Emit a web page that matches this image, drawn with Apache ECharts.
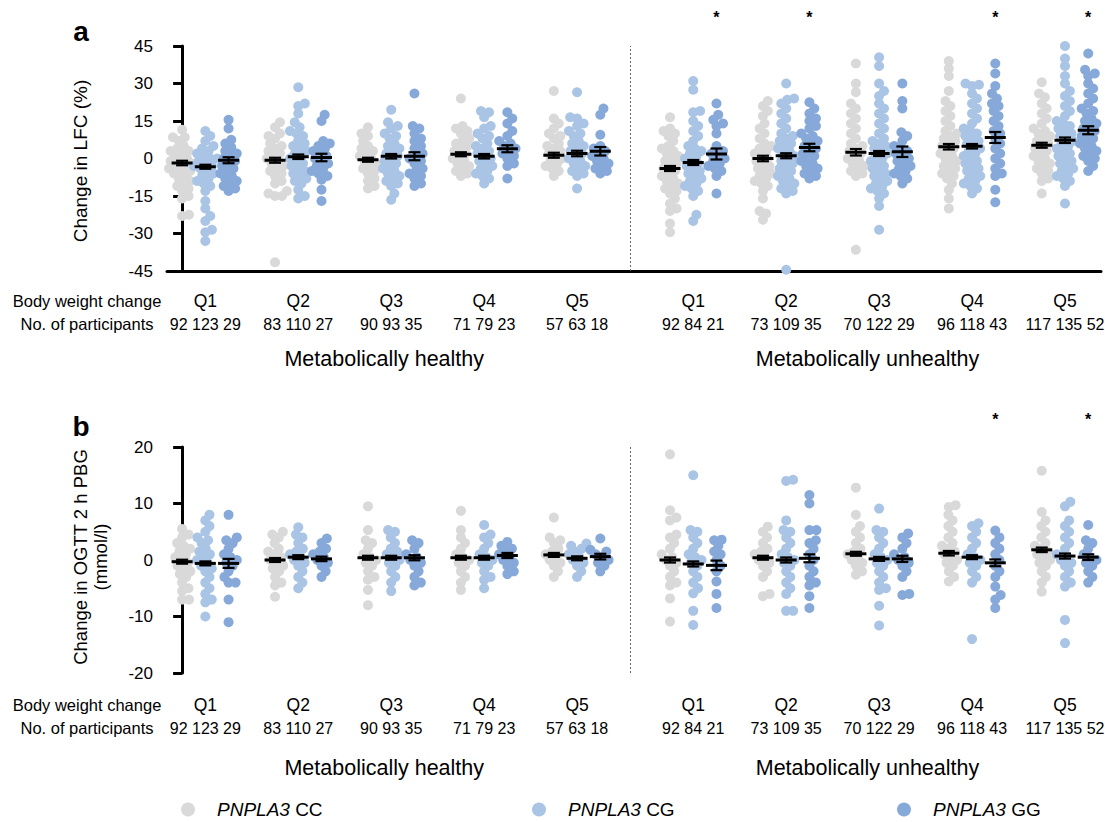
<!DOCTYPE html>
<html><head><meta charset="utf-8">
<script src="https://cdn.jsdelivr.net/npm/echarts@6/dist/echarts.min.js"></script>
<style>html,body{margin:0;padding:0;background:#fff}#c{width:1105px;height:822px}</style>
</head><body><div id="c"></div>
<script>
// ---------------- data ----------------
const quintiles = ['Q1','Q2','Q3','Q4','Q5','Q1','Q2','Q3','Q4','Q5'];
const participantCounts = ['92 123 29','83 110 27','90 93 35','71 79 23','57 63 18','92 84 21','73 109 35','70 122 29','96 118 43','117 135 52'];
const genotypeNames = ['CC','CG','GG'];
const lfcTicks = [-45,-30,-15,0,15,30,45];
const pbgTicks = [-20,-10,0,10,20];
const lfcStarGroups = [5,6,8,9];
const pbgStarGroups = [8,9];

// Panel a: change in LFC (%) ; groups: healthy Q1..Q5, unhealthy Q1..Q5
const lfcCC = [
 [11.5,8.5,8.5,7,5,4,3,3,2,1,0,0,-1,-1,-2,-2,-3,-3,-4,-5,-5,-6,-7,-8,-9,-10,-11,-12,-13,-15,-16,-23,-22.5],
 [14.5,12.5,10,9,8,6,5,4,3,2,1,0,-1,-2,-3,-4,-5,-6,-7,-9,-10,-13,-14,-15,-15,-41.5],
 [12.5,10,9,7,5,4,3,2,1,0,-1,-2,-3,-4,-5,-6,-8,-9,-11,-12],
 [24,13,12,11,10,8,7,6,5,4,3,2,1,0,-1,-2,-3,-4,-5,-6,-7],
 [27,16,14,12,10,9,8,6,5,4,3,2,1,0,-1,-2,-3,-4,-5,-7],
 [16.5,12,11,10,9,7,5,4,3,2,1,0,-1,-2,-3,-4,-5,-6,-7,-8,-9,-10,-11,-12,-13,-14,-16,-18,-20,-21,-26,-29.5],
 [23,21,19,17,14,12,10,8,6,5,4,3,2,1,0,-1,-2,-3,-4,-5,-6,-7,-8,-9,-10,-11,-13,-16,-21,-22,-24.5],
 [38,30,26.5,22,20,18,16,14,12,10,8,6,5,4,3,2,1,0,-1,-2,-3,-4,-5,-6,-7,-36.5],
 [39,36,33,27,23,21,19,17,15,13,11,10,9,8,7,6,5,4,3,2,1,0,-1,-2,-3,-4,-5,-6,-7,-8,-10,-12.5,-16,-20],
 [30.5,26,24.5,22,20,18,16,14,12,11,10,9,8,7,6,5,4,3,2,1,0,-1,-2,-3,-4,-5,-6,-8,-9,-14]
];
const lfcCG = [
 [11,9,7,5,4,3,2,1,0,0,-1,-2,-3,-3,-4,-5,-6,-7,-8,-9,-10,-11,-13,-17,-20,-23,-25,-28.5,-29.5,-33],
 [28.5,22,21,18,14.5,12.5,11,10,9,7,6,5,4,3,2,1,0,-1,-2,-3,-4,-5,-6,-7,-8,-9,-10,-12.5,-15,-16],
 [19.5,14.5,13,12,10,9,8,6,5,4,3,2,1,0,-1,-2,-3,-4,-5,-6,-7,-8,-9,-10,-11,-14,-16.5],
 [19,18.5,16.5,13,12,10,9,8,6,5,4,3,2,1,0,-1,-2,-3,-4,-5,-6,-7,-8,-10],
 [26.5,16.5,16,14,13,11,10,9,7,6,5,4,3,2,1,0,-1,-2,-3,-4,-5,-6,-7,-12],
 [31,27.5,19,18.5,15,13,11,9,7,5,4,3,2,1,0,-1,-2,-3,-4,-5,-6,-7,-8,-9,-10,-11,-12,-13,-15,-22.5,-25],
 [30,24,23.5,22,20,18,16,14,12,10,9,8,7,6,5,4,3,2,1,0,-1,-2,-3,-4,-5,-6,-7,-8,-9,-10,-11,-12,-13,-14,-44.5],
 [40.5,37,30,27,25,22,20,18,16,14,12,10,8,7,6,5,4,3,2,1,0,-1,-2,-3,-4,-5,-6,-7,-8,-9,-10,-11,-12,-13,-14,-16,-19,-28.5],
 [30,29.5,29,26,24,22,20,18,16,14,12,11,10,9,8,7,6,5,4,3,2,1,0,-1,-2,-3,-4,-5,-6,-7,-8,-9,-10,-11,-12,-14],
 [45,40,37,33,30,27,25,23,21,19,17,15,14,13,12,11,10,9,8,7,6,5,4,3,2,1,0,-1,-2,-3,-4,-5,-6,-7,-8,-9,-11,-18]
];
const lfcGG = [
 [15.5,12,7.5,6,4.5,3,2,1,0,-1,-2,-3,-4,-5,-6,-7,-8,-9,-10,-11,-12,-13],
 [17.5,15,7,6,5,4,3,2,1,0,-1,-2,-3,-4,-5,-6,-7,-8.5,-12.5,-17],
 [26,13,12,10,8,7,5,4,2,1,0,-1,-2,-4,-5,-6,-7,-8,-10,-11],
 [18.5,16,14,11,9,7,6,5,4,3,2,1,0,-2,-3,-8],
 [20,17.5,9.5,5,4,3,2,1,0,-1,-2,-3,-4,-5,-6],
 [22,17.5,15.5,14,13,10,5,3,2,1,0,-1,-2,-3,-4,-5,-7,-14],
 [22.5,20,18,16,15,13,12,10,9,8,7,6,5,4,3,2,1,0,-1,-2,-3,-4,-5,-6,-7,-8],
 [30,23,20,10.5,9,7,5,4,3,2,1,0,-1,-2,-3,-4,-5,-6,-7,-8,-10],
 [38,34,29,26,24,22,21,19,17,15,13,11,10,8,6,4,2,0,-2,-4,-6,-7,-12.5,-17.5],
 [42,35.5,34,33,30,28,26,24,22,20,19,18,16,15,14,13,12,11,10,9,8,7,6,5,4,3,2,1,0,-1,-3,-5]
];
const lfcMeanCC = [-1.8,-0.7,-0.5,1.7,1.3,-4.0,0.0,2.5,4.7,5.3];
const lfcMeanCG = [-3.3,0.7,0.9,0.9,2.0,-1.6,1.1,2.0,4.9,7.3];
const lfcMeanGG = [-0.7,0.4,0.9,3.9,2.9,1.8,4.4,2.7,8.4,11.3];
const lfcSemCC = [0.9,1.0,0.8,0.8,1.0,1.0,1.1,1.3,1.1,1.0];
const lfcSemCG = [0.8,0.9,0.9,0.9,1.1,1.0,1.0,1.0,0.9,1.1];
const lfcSemGG = [1.2,1.5,1.6,1.4,1.7,2.2,1.5,2.1,2.2,1.6];

// Panel b: change in OGTT 2 h PBG (mmol/l)
const pbgCC = [
 [5.5,4.5,4,3,2.5,2,1.5,1,0.5,0,-0.5,-1,-1.5,-2,-2.5,-3,-4,-5,-5.5,-7,-7],
 [5,4.5,4,3,2,1.5,1,0.5,0,-0.5,-1,-1.5,-2,-3,-4,-4.5,-6.5],
 [9.5,5.3,3.5,3,2,1,0.5,0,-0.5,-1,-2,-3,-3.5,-5.3,-8],
 [8.7,5.3,4,3,2,1,0.5,0,-0.5,-1,-2,-3,-4,-5.3],
 [7.5,4,3.5,3,2,1.5,1,0.5,0,-0.5,-1,-2,-3],
 [18.7,8.8,7.5,7,4.5,4,3,2,1,0.5,0,-0.5,-1,-2,-3,-4,-4.5,-6.8,-10.9],
 [5.9,5,4,3,2,1.5,1,0.5,0,-0.5,-1,-2,-3,-6,-6.4],
 [12.8,8,6,5,4,3,2,1.5,1,0.5,0,-0.5,-1,-2,-2.6],
 [9.7,9.4,8,7,6,5,4,3,2.5,2,1.5,1,0.5,0,-0.5,-1,-2,-3,-3.8],
 [15.8,8.5,7,6,5,4,3,2.5,2,1.5,1,0.5,0,-0.5,-1,-2,-3,-4,-5.6]
];
const pbgCG = [
 [8,7,6,5,4,3.5,3,2,1.5,1,0.5,0,-0.5,-1,-1.5,-2,-3,-4,-5,-6,-7,-7.5,-10],
 [5.8,4.5,4,3,2,1.5,1,0.5,0,-0.5,-1,-2,-3,-4,-5],
 [5.3,5,4,3,2,1.5,1,0.5,0,-0.5,-1,-2,-3,-4,-5.5],
 [6.2,4.5,4,3,2,1,0.5,0,-0.5,-1,-2,-3,-3.5,-5],
 [2.9,2.5,2,1.5,1,0.5,0,-0.5,-1,-2,-3],
 [15,5.3,5,4,3,2,1,0.5,0,-0.5,-1,-2,-3,-4,-5,-5.9,-9,-11.5],
 [14.2,14,7,5.3,5,4,3,2,1,0.5,0,-0.5,-1,-2,-3,-4,-5,-6,-9,-9],
 [9.1,5.3,5,4,3,2,1,0.5,0,-0.5,-1,-2,-3,-4,-5,-5.3,-8.1,-11.6],
 [6.5,6,5,4,3,2,1,0.5,0,-0.5,-1,-2,-3,-4,-14],
 [10.3,9.5,7,6,5,4,3,2,1,0.5,0,-0.5,-1,-2,-3,-4,-4.7,-10.6,-14.7]
];
const pbgGG = [
 [8,4,3.5,3,2,1,0.5,0,-0.5,-1,-2,-3,-4,-4,-7,-11],
 [3.8,3,2,1.5,1,0.5,0,-0.5,-1,-2,-3],
 [3.5,3,2,1,0.5,0,-0.5,-1,-2,-3,-4,-4.5],
 [3.2,2.5,2,1.5,1,0.5,0,-0.5,-1,-2,-2.5],
 [3.8,1.8,1.5,1,0.5,0,-0.5,-1,-2],
 [3.6,3.5,2.5,1.5,1,0,-1,-2,-3.8,-6,-8.5],
 [11.5,10,5.3,5.3,3.5,3,2,1,0,-1,-2,-3,-4,-4.5,-6.4,-8.5],
 [4.7,4,3,2,1,0.5,0,-0.5,-1,-2,-3,-6,-6.2],
 [5.2,4,3,2,1,0,-1,-2,-3,-4.7,-6.2,-7,-8.5],
 [6.2,3.5,3,2,1,0.5,0,-0.5,-1,-2,-3,-4]
];
const pbgMeanCC = [-0.3,0.0,0.4,0.4,0.9,0.0,0.4,1.1,1.2,1.8];
const pbgMeanCG = [-0.6,0.5,0.4,0.4,0.3,-0.7,0.0,0.2,0.5,0.7];
const pbgMeanGG = [-0.6,0.2,0.4,0.8,0.6,-0.95,0.3,0.2,-0.5,0.5];
const pbgSemCC = [0.35,0.35,0.35,0.35,0.35,0.45,0.35,0.35,0.4,0.4];
const pbgSemCG = [0.35,0.35,0.35,0.35,0.35,0.45,0.45,0.35,0.35,0.45];
const pbgSemGG = [0.8,0.4,0.45,0.45,0.5,0.85,0.7,0.55,0.6,0.5];

// ---------------- layout ----------------
const FONT = '"Liberation Sans", Arial, Helvetica, sans-serif';
const COLORS = ['#d9d9d9','#a9c4e4','#87a9d9'];
const W = 1105;
const GRID_LEFT = 167, GRID_RIGHT = 4;
const X_MIN = -0.65, X_MAX = 39.55;
const SEP_SLOT = 19.29;
const pxPerSlot = (W - GRID_LEFT - GRID_RIGHT) / (X_MAX - X_MIN);
const panelGrids = [{top:46, height:225}, {top:447, height:226}];
const DOT = 10, MIN_DIST = 7;

function slotOf(g, c) { return (g < 5 ? g * 4 : 21 + (g - 5) * 4) + c; }

// deterministic beeswarm layout (pixel space) -> offsets in slot units
function swarm(values, pxPerUnit) {
  const pts = values.map(v => ({ v, y: v * pxPerUnit, x: 0 }));
  pts.sort((a, b) => a.y - b.y);
  const placed = [];
  const d2 = MIN_DIST * MIN_DIST;
  for (const p of pts) {
    const cands = [0];
    for (const q of placed) {
      const dy = p.y - q.y;
      if (Math.abs(dy) < MIN_DIST) {
        const dx = Math.sqrt(d2 - dy * dy);
        cands.push(q.x + dx, q.x - dx);
      }
    }
    cands.sort((a, b) => Math.abs(a) - Math.abs(b) || b - a);
    for (const c of cands) {
      let ok = true;
      for (const q of placed) {
        const dx = c - q.x, dy = p.y - q.y;
        if (dx * dx + dy * dy < d2 - 0.01) { ok = false; break; }
      }
      if (ok) { p.x = c; break; }
    }
    placed.push(p);
  }
  return pts.map(p => [p.x / pxPerSlot, p.v]);
}

const panelsData = [
  { vals: [lfcCC, lfcCG, lfcGG], means: [lfcMeanCC, lfcMeanCG, lfcMeanGG], sems: [lfcSemCC, lfcSemCG, lfcSemGG], ticks: lfcTicks },
  { vals: [pbgCC, pbgCG, pbgGG], means: [pbgMeanCC, pbgMeanCG, pbgMeanGG], sems: [pbgSemCC, pbgSemCG, pbgSemGG], ticks: pbgTicks }
];

const grids = [], xAxes = [], yAxes = [], series = [];
panelsData.forEach((P, pi) => {
  const g = panelGrids[pi];
  grids.push({ left: GRID_LEFT, right: GRID_RIGHT, top: g.top, height: g.height, containLabel: false });
  const tmin = P.ticks[0], tmax = P.ticks[P.ticks.length - 1];
  const pxPerUnit = g.height / (tmax - tmin);
  xAxes.push({ type: 'value', gridIndex: pi, min: X_MIN, max: X_MAX,
    axisLine: { show: pi === 0, onZero: false, lineStyle: { color: '#000', width: 3 } },
    axisTick: { show: false }, axisLabel: { show: false }, splitLine: { show: false } });
  yAxes.push({ type: 'value', gridIndex: pi, min: tmin, max: tmax, interval: P.ticks[1] - P.ticks[0],
    axisLine: { show: true, lineStyle: { color: '#000', width: 3 } },
    axisTick: { show: true, length: 9, lineStyle: { color: '#000', width: 3 } },
    axisLabel: { color: '#000', fontSize: 17, margin: 14, fontFamily: FONT },
    splitLine: { show: false } });
  genotypeNames.forEach((gn, c) => {
    const data = [];
    P.vals[c].forEach((vals, gi) => {
      const base = slotOf(gi, c);
      swarm(vals, pxPerUnit).forEach(([dx, v]) => data.push([base + dx, v]));
    });
    const s = { name: gn, type: 'scatter', xAxisIndex: pi, yAxisIndex: pi, data,
      symbol: 'circle', symbolSize: DOT, itemStyle: { color: COLORS[c], opacity: 1 },
      silent: true, z: 2 };
    if (c === 0) {
      s.markLine = { silent: true, symbol: ['none', 'none'], label: { show: false },
        lineStyle: { type: [2, 2], color: '#666', width: 1 },
        data: [{ xAxis: SEP_SLOT }] };
    }
    series.push(s);
  });
  const meanData = [];
  genotypeNames.forEach((gn, c) => {
    P.means[c].forEach((m, gi) => meanData.push([slotOf(gi, c), m, P.sems[c][gi]]));
  });
  series.push({ type: 'custom', xAxisIndex: pi, yAxisIndex: pi, data: meanData, z: 10, silent: true,
    renderItem: (params, api) => {
      const x = api.value(0), m = api.value(1), s = api.value(2);
      const pm = api.coord([x, m]), ph = api.coord([x, m + s]), pl = api.coord([x, m - s]);
      const st = { stroke: '#000', lineWidth: 2.2 };
      return { type: 'group', children: [
        { type: 'line', shape: { x1: pm[0] - 10.5, y1: pm[1], x2: pm[0] + 10.5, y2: pm[1] }, style: { stroke: '#000', lineWidth: 3 } },
        { type: 'line', shape: { x1: ph[0], y1: ph[1], x2: pl[0], y2: pl[1] }, style: st },
        { type: 'line', shape: { x1: ph[0] - 6, y1: ph[1], x2: ph[0] + 6, y2: ph[1] }, style: st },
        { type: 'line', shape: { x1: pl[0] - 6, y1: pl[1], x2: pl[0] + 6, y2: pl[1] }, style: st }
      ] };
    } });
});

const legendLefts = [176, 527, 892];
const legends = genotypeNames.map((gn, i) => ({
  data: [gn], left: legendLefts[i], top: 795, orient: 'horizontal',
  itemWidth: 48, itemHeight: 14, selectedMode: false,
  formatter: n => '{i|PNPLA3} ' + n,
  textStyle: { color: '#000', fontSize: 19, fontFamily: FONT, rich: { i: { fontStyle: 'italic', fontSize: 19, fontFamily: FONT } } }
}));

const chart = echarts.init(document.getElementById('c'), null, { renderer: 'svg', width: 1105, height: 822 });
chart.setOption({ animation: false, backgroundColor: '#fff', grid: grids, xAxis: xAxes, yAxis: yAxes, series, legend: legends });

// ---------------- text annotations ----------------
function txt(x, y, text, size, extra) {
  return Object.assign({ type: 'text', x, y, silent: true,
    style: Object.assign({ text, fontSize: size, fontFamily: FONT, fill: '#000', align: 'center', verticalAlign: 'middle', textAlign: 'center', textVerticalAlign: 'middle' }, (extra && extra.style) || {}) },
    extra && extra.rotation ? { rotation: extra.rotation } : {});
}
const elements = [];
const rowY = [{ q: 301, n: 324, grp: 359, star: 17, title: 31 }, { q: 705, n: 728, grp: 768, star: 419, title: 426 }];
[0, 1].forEach(pi => {
  const R = rowY[pi];
  elements.push(txt(87, R.q, 'Body weight change', 16.5));
  elements.push(txt(87, R.n, 'No. of participants', 16.5));
  quintiles.forEach((q, gi) => {
    const px = chart.convertToPixel({ gridIndex: pi }, [slotOf(gi, 1), 0])[0];
    elements.push(txt(px, R.q, q, 17.5));
    elements.push(txt(px, R.n, participantCounts[gi], 16));
  });
  const hx = chart.convertToPixel({ gridIndex: pi }, [8.7, 0])[0];
  const ux = chart.convertToPixel({ gridIndex: pi }, [29.5, 0])[0];
  elements.push(txt(hx, R.grp, 'Metabolically healthy', 21.5));
  elements.push(txt(ux, R.grp, 'Metabolically unhealthy', 21.5));
  (pi === 0 ? lfcStarGroups : pbgStarGroups).forEach(gi => {
    const px = chart.convertToPixel({ gridIndex: pi }, [slotOf(gi, 2), 0])[0];
    elements.push(txt(px, R.star, '*', 16, { style: { fontWeight: 'bold' } }));
  });
  elements.push(txt(81, R.title, pi === 0 ? 'a' : 'b', 28, { style: { fontWeight: 'bold' } }));
});
elements.push(txt(80, 161, 'Change in LFC (%)', 19, { rotation: Math.PI / 2 }));
elements.push(txt(90, 557, 'Change in OGTT 2 h PBG\n(mmol/l)', 18.5, { rotation: Math.PI / 2, style: { lineHeight: 20 } }));
chart.setOption({ graphic: { elements } });
</script>
</body></html>
